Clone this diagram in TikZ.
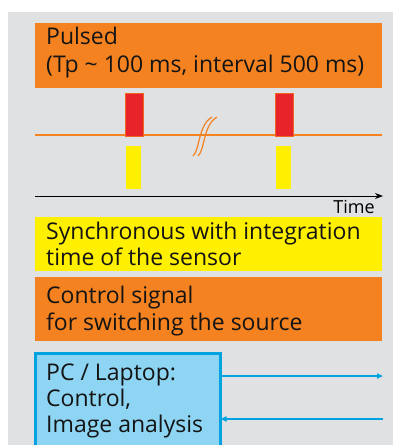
\documentclass[tikz,border=0pt]{standalone}
\usepackage{fontspec}
\setmainfont{Open Sans}
\usetikzlibrary{arrows.meta}
\definecolor{bgray}{HTML}{E0E1E3}
\definecolor{orng}{HTML}{F58220}
\definecolor{pred}{HTML}{E8232A}
\definecolor{pyel}{HTML}{FFEF00}
\definecolor{lblue}{HTML}{8ED4F3}
\definecolor{dblue}{HTML}{00A3E0}
\tikzset{
  box/.style={draw=none,inner sep=0pt,outer sep=0pt,anchor=north west},
  txt/.style={anchor=base west,inner sep=0pt,font=\fontsize{23}{27}\selectfont,text=black!92},
  conn/.style={draw=dblue,line width=2pt,-{Triangle[length=6pt,width=5pt]}}
}
\begin{document}
\begin{tikzpicture}[x=1pt,y=-1pt]
\useasboundingbox (0,0) rectangle (393,445);
\fill[bgray] (8,12) rectangle (393,445);
% top orange box
\node[box,fill=orng,minimum width=347pt,minimum height=65pt] (pulsed) at (35,23) {};
\node[txt] (pulsedA) at (46,44) {Pulsed};
\node[txt] (pulsedB) at (46,72) {(Tp \textasciitilde{} 100 ms, interval 500 ms)};
% signal line
\coordinate (sl) at (35,135);
\coordinate (sr) at (382,135);
\draw[orng,line width=2.4pt] (sl) -- (sr);
% red pulses
\node[box,fill=pred,draw=orng!70!pred,line width=0.6pt,minimum width=18pt,minimum height=43pt] (r1) at (125,93) {};
\node[box,fill=pred,draw=orng!70!pred,line width=0.6pt,minimum width=18pt,minimum height=43pt] (r2) at (275,93) {};
% yellow pulses
\node[box,fill=pyel,minimum width=15pt,minimum height=43pt] (y1) at (126,146) {};
\node[box,fill=pyel,minimum width=15pt,minimum height=43pt] (y2) at (276,146) {};
% break mark
\draw[orng,line width=1.2pt] (193,156) .. controls (200,150) and (198,125) .. (212,117);
\draw[orng,line width=1.2pt] (198,156) .. controls (205,150) and (203,125) .. (217,117);
% time axis
\coordinate (tl) at (35,196);
\coordinate (tr) at (383,196);
\draw[black,line width=1pt,-{Stealth[length=8pt,width=6pt]}] (tl) -- (tr);
\node[anchor=base east,inner sep=0pt,font=\fontsize{18}{20}\selectfont] (time) at (375,213) {Time};
% yellow box
\node[box,fill=pyel,minimum width=347pt,minimum height=54pt] (sync) at (35,217) {};
\node[txt] (syncA) at (46,239) {Synchronous with integration};
\node[txt] (syncB) at (46,265) {time of the sensor};
% orange box 2
\node[box,fill=orng,minimum width=347pt,minimum height=64pt] (ctrl) at (35,277) {};
\node[txt] (ctrlA) at (46,303) {Control signal};
\node[txt] (ctrlB) at (46,330) {for switching the source};
% blue box
\node[box,fill=lblue,draw=dblue,line width=3pt,minimum width=185pt,minimum height=98pt] (pc) at (35.5,353) {};
\node[txt] (pcA) at (46,380) {PC / Laptop:};
\node[txt] (pcB) at (46,406) {Control,};
\node[txt] (pcC) at (46,432) {Image analysis};
% arrows
\coordinate (a1) at (383,376);
\coordinate (a2) at (383,419);
\draw[conn] (pc.east |- a1) -- (a1);
\draw[conn] (a2) -- (pc.east |- a2);
\end{tikzpicture}
\end{document}
